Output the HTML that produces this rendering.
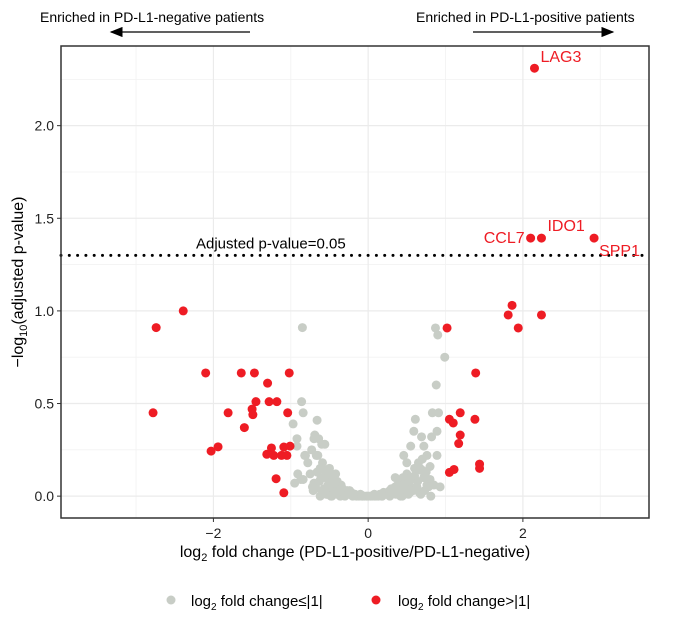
<!DOCTYPE html>
<html><head><meta charset="utf-8"><style>
body{margin:0;background:#fff;}
svg{display:block;font-family:"Liberation Sans",Arial,sans-serif;}
</style></head><body>
<svg id="chart" width="674" height="617" viewBox="0 0 674 617">
<defs><marker id="ah" markerWidth="10" markerHeight="8" refX="9" refY="4" orient="auto"><path d="M0,0 L10,4 L0,8 Z" fill="#000"/></marker></defs>
<g id="grid"></g>
<g id="marks"></g>
<rect x="61" y="46" width="588" height="472" fill="none" stroke="#333" stroke-width="1.5"/>
<g id="axes"></g>
<text x="40" y="22" font-size="14">Enriched in PD-L1-negative patients</text>
<line x1="250" y1="32" x2="111" y2="32" stroke="#000" stroke-width="1.3" marker-end="url(#ah)"/>
<text x="416" y="22" font-size="14">Enriched in PD-L1-positive patients</text>
<line x1="473" y1="32" x2="613" y2="32" stroke="#000" stroke-width="1.3" marker-end="url(#ah)"/>
<text x="355" y="557" font-size="16" text-anchor="middle">log<tspan font-size="11" dy="4">2</tspan><tspan dy="-4"> fold change (PD-L1-positive/PD-L1-negative)</tspan></text>
<text transform="translate(23,282) rotate(-90)" font-size="16" text-anchor="middle">−log<tspan font-size="11" dy="4">10</tspan><tspan dy="-4">(adjusted p-value)</tspan></text>
<g>
<circle cx="171" cy="600" r="4.5" fill="#c8cdc6"/>
<text x="191" y="606" font-size="15">log<tspan font-size="10" dy="4">2</tspan><tspan dy="-4"> fold change≤|1|</tspan></text>
<circle cx="376" cy="600" r="4.5" fill="#ee1c24"/>
<text x="398" y="606" font-size="15">log<tspan font-size="10" dy="4">2</tspan><tspan dy="-4"> fold change&gt;|1|</tspan></text>
</g>
</svg>
<script>
const xTicks=[-2,0,2];
const yTicks=[0,0.5,1.0,1.5,2.0];
const yTickLabels=["0.0","0.5","1.0","1.5","2.0"];
const threshold=1.30;
const redX=[-2.39,-2.74,-2.10,-1.64,-1.47,-1.02,-1.30,-1.45,-1.28,-1.18,-2.78,-1.81,-1.50,-1.49,-1.04,-1.60,-2.03,-1.94,-1.25,-1.31,-1.22,-1.09,-1.01,-1.12,-1.05,-1.19,-1.09,2.15,2.10,2.24,2.92,1.86,1.81,2.24,1.94,1.02,1.39,1.19,1.05,1.10,1.38,1.19,1.17,1.05,1.11,1.44,1.44];
const redY=[1.00,0.91,0.665,0.665,0.665,0.665,0.61,0.51,0.51,0.51,0.45,0.45,0.47,0.44,0.45,0.37,0.243,0.266,0.26,0.226,0.22,0.265,0.27,0.22,0.22,0.094,0.018,2.31,1.393,1.393,1.393,1.03,0.978,0.978,0.908,0.908,0.665,0.45,0.415,0.395,0.415,0.33,0.284,0.128,0.144,0.173,0.15];
const labelNames=["LAG3","CCL7","IDO1","SPP1"];
const labelX=[2.15,2.10,2.24,2.92];
const labelY=[2.31,1.393,1.393,1.393];
const greyX=[-0.85,-0.86,-0.84,-0.66,-0.97,-0.92,-0.70,-0.64,-0.92,-0.60,-0.82,-0.67,-0.91,-0.95,-0.84,-0.69,-0.56,-0.81,-0.65,-0.59,-0.70,-0.87,-0.75,-0.72,-0.62,-0.58,-0.55,-0.52,-0.50,-0.48,-0.45,-0.42,-0.40,-0.38,-0.35,-0.32,-0.30,-0.27,-0.25,-0.22,-0.20,-0.17,-0.15,-0.12,-0.10,-0.07,-0.05,-0.02,0.0,0.03,0.05,0.08,0.10,0.13,0.15,0.18,0.20,0.23,0.25,0.28,0.30,0.33,0.35,0.38,0.40,0.43,0.45,0.48,0.50,0.53,0.56,0.60,0.64,0.68,0.72,0.76,0.80,-0.60,-0.55,-0.50,-0.45,-0.62,-0.53,-0.47,-0.40,-0.36,0.42,0.47,0.52,0.57,0.62,0.66,0.87,0.90,0.99,0.88,0.83,0.91,0.61,0.59,0.89,0.69,0.82,0.55,0.72,0.46,0.76,0.89,0.50,0.67,0.80,0.35,0.55,0.72,0.93,0.81,-0.78,-0.73,0.70,0.75,0.85,
-0.68,-0.63,-0.57,-0.52,-0.46,-0.43,-0.38,-0.33,-0.28,-0.24,-0.56,-0.49,-0.44,-0.61,-0.66,-0.71,-0.54,-0.48,0.38,0.44,0.49,0.54,0.58,0.63,0.68,0.73,0.78,0.60,0.65,0.70,0.52,0.46,0.41,0.36,-0.30,-0.18,-0.08,0.08,0.18,0.28];
const greyY=[0.91,0.51,0.45,0.41,0.39,0.31,0.31,0.31,0.27,0.28,0.22,0.22,0.12,0.07,0.09,0.33,0.28,0.22,0.22,0.18,0.07,0.09,0.12,0.05,0.15,0.10,0.13,0.06,0.15,0.10,0.05,0.12,0.08,0.04,0.06,0.03,0.02,0.03,0.01,0.02,0.0,0.01,0.0,0.0,0.01,0.0,0.0,0.0,0.0,0.0,0.0,0.01,0.0,0.0,0.01,0.0,0.02,0.01,0.02,0.03,0.04,0.02,0.05,0.06,0.08,0.05,0.10,0.07,0.12,0.06,0.09,0.11,0.08,0.14,0.10,0.06,0.09,0.03,0.02,0.04,0.03,0.0,0.01,0.0,0.01,0.0,0.0,0.02,0.01,0.03,0.04,0.02,0.908,0.87,0.75,0.60,0.45,0.45,0.415,0.35,0.35,0.32,0.32,0.27,0.27,0.22,0.22,0.22,0.18,0.15,0.16,0.10,0.10,0.10,0.05,0.0,0.18,0.25,0.20,0.13,0.06,
0.05,0.08,0.04,0.09,0.03,0.07,0.02,0.04,0.01,0.03,0.14,0.12,0.08,0.10,0.13,0.03,0.01,0.0,0.02,0.0,0.04,0.02,0.03,0.05,0.01,0.03,0.05,0.15,0.18,0.14,0.08,0.06,0.03,0.01,0.0,0.01,0.0,0.0,0.0,0.0];
const NS="http://www.w3.org/2000/svg";
const L=61,R=649,T=46,B=518,xmin=-3.97,xmax=3.63,ymin=-0.118,ymax=2.43;
function sx(v){return L+(v-xmin)/(xmax-xmin)*(R-L);}
function sy(v){return B-(v-ymin)/(ymax-ymin)*(B-T);}
function mk(tag,attrs,parent){const e=document.createElementNS(NS,tag);for(const k in attrs)e.setAttribute(k,attrs[k]);parent.appendChild(e);return e;}
const grid=document.getElementById('grid'),marks=document.getElementById('marks'),axes=document.getElementById('axes');
[-3,-1,1,3].forEach(v=>{const l=mk('line',{x1:sx(v),x2:sx(v),y1:T,y2:B,stroke:'#f2f2f2','stroke-width':0.8},grid);});
[0.25,0.75,1.25,1.75,2.25].forEach(v=>{const l=mk('line',{x1:L,x2:R,y1:sy(v),y2:sy(v),stroke:'#f2f2f2','stroke-width':0.8},grid);});
xTicks.forEach(v=>{const l=mk('line',{x1:sx(v),x2:sx(v),y1:T,y2:B,stroke:'#ebebeb','stroke-width':1.2},grid);
 const t=mk('line',{x1:sx(v),x2:sx(v),y1:B,y2:B+4,stroke:'#333'},axes);
 const tx=mk('text',{x:sx(v),y:B+20,'font-size':14,'text-anchor':'middle',fill:'#222'},axes);tx.textContent=v<0?'−'+Math.abs(v):String(v);});
yTicks.forEach((v,i)=>{const l=mk('line',{x1:L,x2:R,y1:sy(v),y2:sy(v),stroke:'#ebebeb','stroke-width':1.2},grid);
 const t=mk('line',{x1:L-4,x2:L,y1:sy(v),y2:sy(v),stroke:'#333'},axes);
 const tx=mk('text',{x:L-7,y:sy(v)+5,'font-size':14,'text-anchor':'end',fill:'#222'},axes);tx.textContent=yTickLabels[i];});
const th=mk('line',{x1:L,x2:R,y1:sy(threshold),y2:sy(threshold),stroke:'#000','stroke-width':3,'stroke-dasharray':'0 8.3','stroke-linecap':'round'},marks);


const tt=mk('text',{x:196,y:sy(threshold)-7,'font-size':15},marks);tt.textContent='Adjusted p-value=0.05';


greyX.forEach((v,i)=>{const c=mk('circle',{cx:sx(v),cy:sy(greyY[i]),r:4.5,fill:'#c8cdc6'},marks);
 
 });
redX.forEach((v,i)=>{const c=mk('circle',{cx:sx(v),cy:sy(redY[i]),r:4.5,fill:'#ee1c24'},marks);
 
 });
const offs=[[6,-6,'start'],[-6,5,'end'],[6,-7,'start'],[5,18,'start']];
labelNames.forEach((n,i)=>{const t=mk('text',{x:sx(labelX[i])+offs[i][0],y:sy(labelY[i])+offs[i][1],'font-size':16,fill:'#ee1c24','text-anchor':offs[i][2]},marks);t.textContent=n;
 
 });
</script>
</body></html>
